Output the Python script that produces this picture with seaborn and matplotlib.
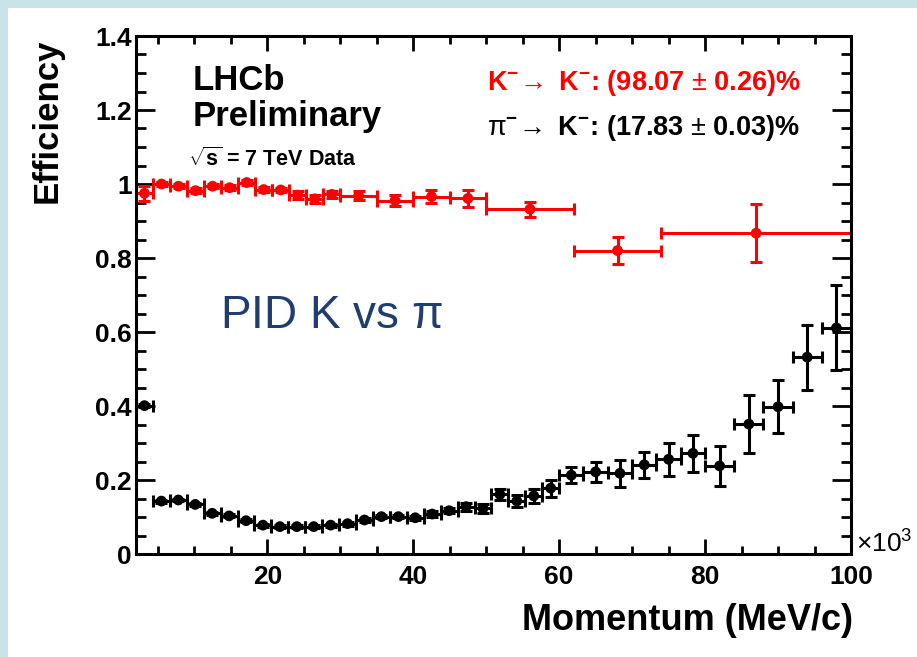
import numpy as np
import pandas as pd
import matplotlib
matplotlib.use("Agg")
import matplotlib.pyplot as plt
from matplotlib.patches import Rectangle
from matplotlib.ticker import FixedLocator, FixedFormatter, MultipleLocator
import seaborn as sns

# ---- data: momentum bins (x 10^3 MeV/c) and PID efficiencies ----
pion_edges = [2.0, 4.32, 6.64, 8.96, 11.28, 13.6, 15.92, 18.24, 20.56, 22.88,
              25.2, 27.52, 29.84, 32.16, 34.48, 36.8, 39.12, 41.44, 43.76, 46.08,
              48.4, 50.72, 53.04, 55.36, 57.68, 60.0, 63.33, 66.67, 70.0, 73.33,
              76.67, 80.0, 84.0, 88.0, 92.0, 96.0, 100.0]
pion_eff = [0.401, 0.143, 0.146, 0.134, 0.110, 0.103, 0.090, 0.078, 0.074, 0.074,
            0.074, 0.078, 0.082, 0.092, 0.101, 0.101, 0.098, 0.108, 0.117, 0.128,
            0.123, 0.161, 0.143, 0.157, 0.178, 0.213, 0.222, 0.218, 0.241, 0.256,
            0.272, 0.238, 0.351, 0.398, 0.532, 0.611]
pion_err = [0.004, 0.004, 0.004, 0.004, 0.004, 0.004, 0.004, 0.004, 0.004, 0.004,
            0.004, 0.004, 0.005, 0.005, 0.005, 0.005, 0.005, 0.007, 0.007, 0.011,
            0.012, 0.014, 0.016, 0.019, 0.023, 0.022, 0.027, 0.036, 0.036, 0.045,
            0.050, 0.054, 0.079, 0.072, 0.088, 0.115]

kaon_edges = [2.0, 4.33, 6.67, 9.0, 11.33, 13.67, 16.0, 18.33, 20.67, 23.0,
              25.33, 27.67, 30.0, 35.0, 40.0, 45.0, 50.0, 62.0, 74.0, 100.0]
kaon_eff = [0.975, 1.000, 0.994, 0.982, 0.994, 0.990, 1.004, 0.985, 0.984, 0.970,
            0.960, 0.972, 0.968, 0.955, 0.966, 0.961, 0.932, 0.820, 0.867]
kaon_err = [0.020, 0.006, 0.006, 0.006, 0.006, 0.006, 0.006, 0.006, 0.006, 0.010,
            0.010, 0.010, 0.012, 0.015, 0.018, 0.022, 0.020, 0.037, 0.079]

y_ticks = [0.0, 0.2, 0.4, 0.6, 0.8, 1.0, 1.2, 1.4]
y_tick_labels = ["0", "0.2", "0.4", "0.6", "0.8", "1", "1.2", "1.4"]
x_ticks = [20, 40, 60, 80, 100]
x_tick_labels = ["20", "40", "60", "80", "100"]


def binned(edges, eff, err, name):
    e = np.asarray(edges)
    return pd.DataFrame({
        "p": 0.5 * (e[1:] + e[:-1]),
        "dp": 0.5 * (e[1:] - e[:-1]),
        "eff": eff,
        "err": err,
        "channel": name,
    })


df = pd.concat([binned(kaon_edges, kaon_eff, kaon_err, "K"),
                binned(pion_edges, pion_eff, pion_err, "pi")], ignore_index=True)
colors = {"K": "#FF0000", "pi": "#000000"}

sns.set_theme(style="ticks")
plt.rcParams["font.family"] = ["Liberation Sans", "DejaVu Sans"]
plt.rcParams["text.color"] = "black"
plt.rcParams["axes.labelcolor"] = "black"
plt.rcParams["xtick.color"] = "black"
plt.rcParams["ytick.color"] = "black"
plt.rcParams["mathtext.fontset"] = "custom"
plt.rcParams["mathtext.rm"] = "Liberation Sans"
plt.rcParams["mathtext.bf"] = "Liberation Sans:bold"
plt.rcParams["mathtext.it"] = "Liberation Sans:italic"
plt.rcParams["mathtext.sf"] = "Liberation Sans"

W, H = 917, 657
fig = plt.figure(figsize=(W / 100, H / 100), dpi=100)
fig.patch.set_facecolor("white")

# slide frame strips
frame = "#C8E4E8"
fig.patches.append(Rectangle((0, 1 - 8 / H), 1, 8 / H, transform=fig.transFigure,
                             facecolor=frame, edgecolor="none", zorder=0))
fig.patches.append(Rectangle((0, 0), 8 / W, 1, transform=fig.transFigure,
                             facecolor=frame, edgecolor="none", zorder=0))

ax = fig.add_axes([136 / W, 1 - 554 / H, (851 - 136) / W, (554 - 36) / H])

for name, sub in df.groupby("channel"):
    ax.errorbar(sub["p"], sub["eff"], xerr=sub["dp"], yerr=sub["err"], fmt="none",
                ecolor=colors[name], elinewidth=2.2, capsize=4, capthick=2.2, zorder=2)

sns.scatterplot(data=df, x="p", y="eff", hue="channel", palette=colors, s=60,
                linewidth=0, legend=False, ax=ax, zorder=3)

ax.set_xlim(2, 100)
ax.set_ylim(0, 1.4)
ax.xaxis.set_major_locator(FixedLocator(x_ticks))
ax.xaxis.set_major_formatter(FixedFormatter(x_tick_labels))
ax.xaxis.set_minor_locator(MultipleLocator(5))
ax.yaxis.set_major_locator(FixedLocator(y_ticks))
ax.yaxis.set_major_formatter(FixedFormatter(y_tick_labels))
ax.yaxis.set_minor_locator(MultipleLocator(0.05))

for s in ax.spines.values():
    s.set_linewidth(2.2)
    s.set_color("black")

ax.tick_params(which="both", direction="in", top=True, right=True, width=2,
               color="black", labelcolor="black")
ax.tick_params(axis="x", which="major", length=11, pad=8)
ax.tick_params(axis="x", which="minor", length=5.5)
ax.tick_params(axis="y", which="major", length=14, pad=3)
ax.tick_params(axis="y", which="minor", length=7)
for lab in ax.get_xticklabels() + ax.get_yticklabels():
    lab.set_fontsize(19)
    lab.set_fontweight("bold")
    lab.set_color("black")

ax.set_xlabel("")
ax.set_ylabel("")

# axis titles
fig.text(853 / W, 1 - 630 / H, "Momentum (MeV/c)", fontsize=26, fontweight="bold",
         ha="right", va="baseline", color="black")
fig.text(47 / W, 1 - 121 / H, "Efficiency", fontsize=25, fontweight="bold",
         rotation=90, ha="center", va="center", color="black")
fig.text(856 / W, 1 - 553 / H, r"$\times$10$^{3}$", fontsize=19,
         ha="left", va="baseline", color="black")

# experiment labels
fig.text(193 / W, 1 - 90 / H, "LHCb", fontsize=25, fontweight="bold",
         va="baseline", color="black")
fig.text(193 / W, 1 - 126 / H, "Preliminary", fontsize=25, fontweight="bold",
         va="baseline", color="black")
fig.text(188 / W, 1 - 166 / H, r"$\sqrt{\mathbf{s}}$ = 7 TeV Data", fontsize=15.5,
         fontweight="bold", va="baseline", color="black")

fig.text(487 / W, 1 - 90 / H,
         r"$\mathbf{K}^{\mathbf{-}}\!\rightarrow$ $\mathbf{K}^{\mathbf{-}}$: (98.07 $\pm$ 0.26)%",
         fontsize=19.5, fontweight="bold", color="#FF0000", va="baseline")
fig.text(487 / W, 1 - 135 / H,
         r"$\mathrm{\pi}^{\mathbf{-}}\!\rightarrow$ $\mathbf{K}^{\mathbf{-}}$: (17.83 $\pm$ 0.03)%",
         fontsize=19.5, fontweight="bold", color="black", va="baseline")

fig.text(220 / W, 1 - 328 / H, r"PID K vs $\mathrm{\pi}$", fontsize=33, color="#1F3D6E",
         va="baseline")

fig.savefig("out.png", dpi=100)
